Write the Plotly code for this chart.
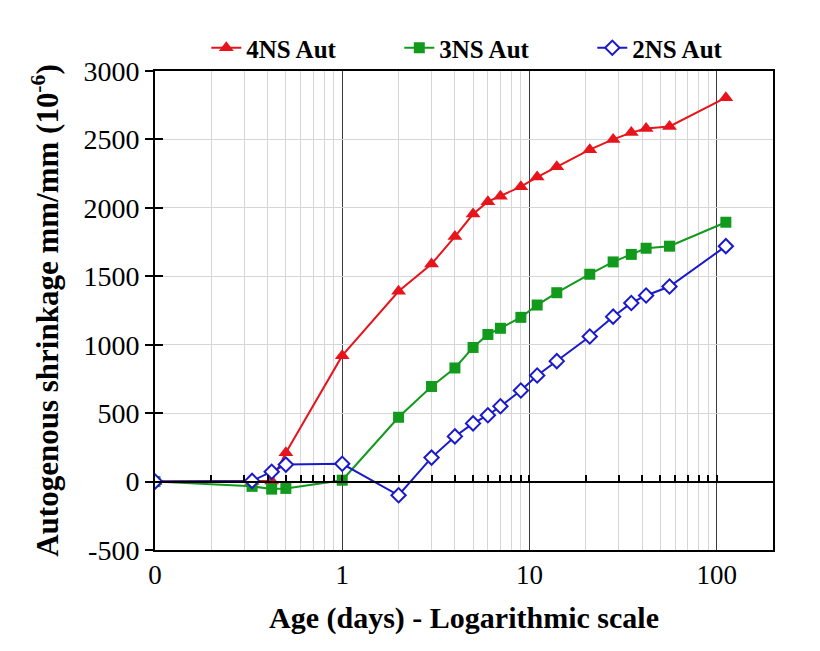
import plotly.graph_objects as go

# ---- data ----
ages = [0.1, 0.33, 0.42, 0.5, 1, 2, 3, 4, 5, 6, 7, 9, 11, 14, 21, 28, 35, 42, 56, 112]
ns4 = [0, 0, 5, 210, 920, 1390, 1590, 1790, 1955, 2045, 2085, 2155, 2225, 2300, 2425, 2500, 2550, 2580, 2595, 2805]
ns3 = [0, -35, -55, -50, 10, 470, 695, 830, 980, 1075, 1120, 1200, 1290, 1380, 1515, 1605, 1660, 1705, 1720, 1895]
ns2 = [0, 5, 72, 124, 130, -100, 175, 330, 425, 485, 550, 665, 775, 880, 1060, 1205, 1305, 1360, 1425, 1720]

series_names = ["4NS Aut", "3NS Aut", "2NS Aut"]
major_ticks = [0.1, 1, 10, 100]
major_labels = ["0", "1", "10", "100"]
minor_ticks = [0.2, 0.3, 0.4, 0.5, 0.6, 0.7, 0.8, 0.9,
               2, 3, 4, 5, 6, 7, 8, 9,
               20, 30, 40, 50, 60, 70, 80, 90, 200]
zero_ticks = minor_ticks[:-1] + [1, 10, 100]
y_ticks = [-500, 0, 500, 1000, 1500, 2000, 2500, 3000]
y_labels = ["-500", "0", "500", "1000", "1500", "2000", "2500", "3000"]

FONT = "Liberation Serif"
x_range = [-1, 2.301]
y_range = [-500, 3000]

fig = go.Figure()
fig.add_trace(go.Scatter(
    x=ages, y=ns4, name="<b>" + series_names[0] + "</b>", mode="lines+markers",
    line=dict(color="#e8141c", width=2),
    marker=dict(symbol="triangle-up", size=13, color="#e8141c")))
fig.add_trace(go.Scatter(
    x=ages, y=ns3, name="<b>" + series_names[1] + "</b>", mode="lines+markers",
    line=dict(color="#119a1c", width=2),
    marker=dict(symbol="square", size=11, color="#119a1c")))
fig.add_trace(go.Scatter(
    x=ages, y=ns2, name="<b>" + series_names[2] + "</b>", mode="lines+markers",
    line=dict(color="#1a1acc", width=2),
    marker=dict(symbol="diamond", size=11, color="white",
                line=dict(color="#1a1acc", width=2))))
# helper traces to make overlay axes render
fig.add_trace(go.Scatter(x=[None], y=[None], xaxis="x2", yaxis="y", showlegend=False, hoverinfo="skip"))
fig.add_trace(go.Scatter(x=[None], y=[None], xaxis="x", yaxis="y2", showlegend=False, hoverinfo="skip"))

fig.update_layout(
    width=820, height=651,
    margin=dict(l=155, r=47, t=71, b=101),
    paper_bgcolor="white", plot_bgcolor="white",
    font=dict(family=FONT, color="black"),
    showlegend=True,
    legend=dict(orientation="h", x=0.083, xanchor="left", y=1.0, yanchor="bottom",
                font=dict(family=FONT, size=25, color="black"),
                entrywidth=148, bgcolor="rgba(0,0,0,0)"),
    xaxis=dict(type="log", range=x_range, tickmode="array",
               tickvals=major_ticks, ticktext=major_labels,
               tickfont=dict(family=FONT, size=27),
               showgrid=True, gridcolor="#3a3a3a", gridwidth=1,
               minor=dict(tickvals=minor_ticks, showgrid=True, gridcolor="#d6d6d6", gridwidth=1, ticks=""),
               ticks="", showline=True, linecolor="black", linewidth=2, mirror=True,
               zeroline=False,
               title=dict(text="<b>Age (days) - Logarithmic scale</b>",
                          font=dict(family=FONT, size=30), standoff=18)),
    xaxis2=dict(type="log", range=x_range, overlaying="x", anchor="free",
                position=500 / 3500, side="top", tickmode="array",
                tickvals=zero_ticks, showticklabels=False, ticks="outside",
                ticklen=6, tickwidth=1.5, tickcolor="black",
                showline=True, linecolor="black", linewidth=2,
                showgrid=False, zeroline=False),
    yaxis=dict(range=y_range, tickmode="array", tickvals=y_ticks, ticktext=y_labels,
               tickfont=dict(family=FONT, size=28),
               showgrid=True, gridcolor="#d6d6d6", gridwidth=1,
               ticks="outside", ticklen=8, tickwidth=2, tickcolor="black",
               showline=True, linecolor="black", linewidth=2, mirror=True,
               zeroline=False,
               title=dict(text="<b>Autogenous shrinkage mm/mm (10<sup>-6</sup>)</b>",
                          font=dict(family=FONT, size=31), standoff=16)),
    yaxis2=dict(range=y_range, overlaying="y", side="left", tickmode="array",
                tickvals=y_ticks, showticklabels=False, ticks="inside",
                ticklen=8, tickwidth=2, tickcolor="black",
                showline=False, showgrid=False, zeroline=False),
)

fig.write_html("out.html")
